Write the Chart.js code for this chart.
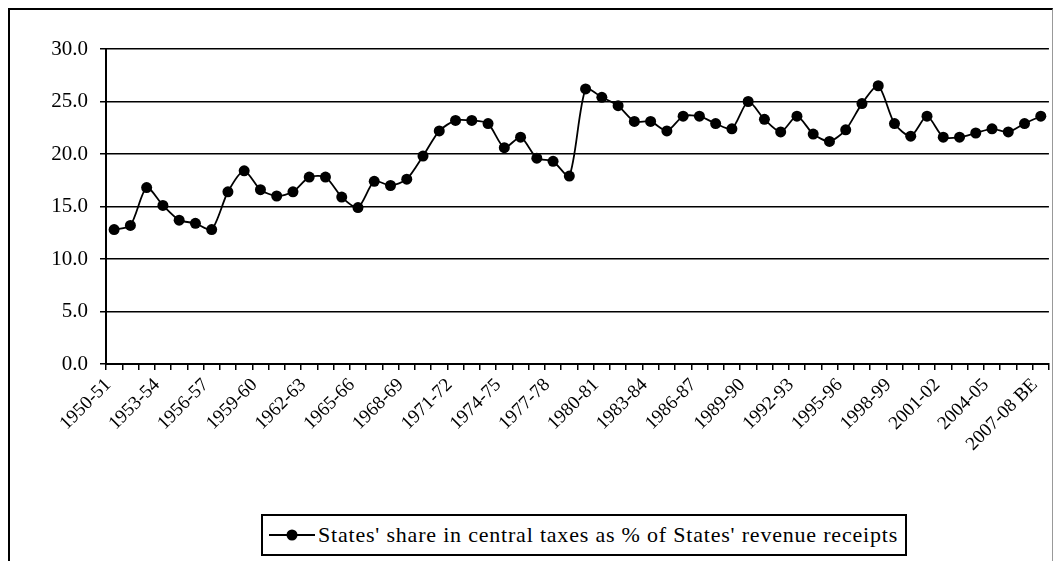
<!DOCTYPE html>
<html>
<head>
<meta charset="utf-8">
<script src="https://cdn.jsdelivr.net/npm/chart.js@4.4.1/dist/chart.umd.min.js"></script>
<style>
    html, body { margin: 0; padding: 0; background: #fff; overflow: hidden; }
    #wrap { position: relative; width: 1061px; height: 561px; }
    #frame {
        position: absolute; left: 8px; top: 8px; width: 1045px; height: 600px;
        border-left: 2px solid #000; border-top: 2px solid #000; border-right: 1px solid #999;
        box-sizing: border-box;
    }
    #chart { position: absolute; left: 0; top: 0; }
    #legend {
        position: absolute; left: 261px; top: 514px; width: 646px; height: 42px;
        border: 2px solid #000; box-sizing: border-box; background: #fff;
        display: flex; align-items: center; justify-content: flex-start; padding-left: 6px;
        font-family: 'Liberation Serif', Tinos, 'DejaVu Serif', 'Times New Roman', serif;
        font-size: 22px; letter-spacing: 0.8px; color: #000; white-space: nowrap;
    }
    #legend svg { margin-right: 3px; flex: none; }
</style>
</head>
<body>
<div id="wrap">
    <div id="frame"></div>
    <canvas id="chart" width="1061" height="561"></canvas>
    <div id="legend">
        <svg width="46" height="14"><line x1="0" y1="7" x2="46" y2="7" stroke="#000" stroke-width="2"/><circle cx="23" cy="7" r="5.5" fill="#000"/></svg>
        <span>States' share in central taxes as % of States' revenue receipts</span>
    </div>
</div>
<script>
const years = [
    '1950-51', '1951-52', '1952-53', '1953-54', '1954-55', '1955-56', '1956-57', '1957-58', '1958-59', '1959-60',
    '1960-61', '1961-62', '1962-63', '1963-64', '1964-65', '1965-66', '1966-67', '1967-68', '1968-69', '1969-70',
    '1970-71', '1971-72', '1972-73', '1973-74', '1974-75', '1975-76', '1976-77', '1977-78', '1978-79', '1979-80',
    '1980-81', '1981-82', '1982-83', '1983-84', '1984-85', '1985-86', '1986-87', '1987-88', '1988-89', '1989-90',
    '1990-91', '1991-92', '1992-93', '1993-94', '1994-95', '1995-96', '1996-97', '1997-98', '1998-99', '1999-00',
    '2000-01', '2001-02', '2002-03', '2003-04', '2004-05', '2005-06', '2006-07', '2007-08 BE',
];

const statesShare = [
    12.8, 13.2, 16.8, 15.1, 13.7, 13.4, 12.8, 16.4, 18.4, 16.6,
    16.0, 16.4, 17.8, 17.8, 15.9, 14.9, 17.4, 17.0, 17.6, 19.8,
    22.2, 23.2, 23.2, 22.9, 20.6, 21.6, 19.6, 19.3, 17.9, 26.2,
    25.4, 24.6, 23.1, 23.1, 22.2, 23.6, 23.6, 22.9, 22.4, 25.0,
    23.3, 22.1, 23.6, 21.9, 21.2, 22.3, 24.8, 26.5, 22.9, 21.7,
    23.6, 21.6, 21.6, 22.0, 22.4, 22.1, 22.9, 23.6,
];

const yMin = 0;
const yMax = 30;
const yStep = 5;
const labelEvery = 3;

const serif = "'Liberation Serif', Tinos, 'DejaVu Serif', 'Times New Roman', serif";

new Chart(document.getElementById('chart'), {
    type: 'line',
    data: {
        labels: years,
        datasets: [{
            label: "States' share in central taxes as % of States' revenue receipts",
            data: statesShare,
            borderColor: '#000',
            backgroundColor: '#000',
            borderWidth: 1.8,
            pointRadius: 5.5,
            pointHoverRadius: 5.5,
            pointBackgroundColor: '#000',
            pointBorderWidth: 0,
            tension: 0.25,
        }],
    },
    options: {
        responsive: false,
        animation: false,
        layout: { padding: { left: 0, top: 49, right: 9, bottom: 0 } },
        plugins: {
            legend: { display: false },
            tooltip: { enabled: false },
        },
        scales: {
            x: {
                offset: true,
                afterFit: (scale) => { scale.height = 197; },
                grid: {
                    display: true,
                    offset: true,
                    drawOnChartArea: false,
                    drawTicks: true,
                    tickLength: 6,
                    color: '#000',
                    lineWidth: 1.5,
                },
                border: { color: '#000', width: 2 },
                ticks: {
                    autoSkip: false,
                    maxRotation: 45,
                    minRotation: 45,
                    padding: 4,
                    labelOffset: -6,
                    color: '#000',
                    font: { family: serif, size: 19 },
                    callback: (value, index) => (index % labelEvery === 0 ? years[index] : ''),
                },
            },
            y: {
                min: yMin,
                max: yMax,
                afterFit: (scale) => { scale.width = 106; },
                grid: {
                    color: '#000',
                    lineWidth: 1.5,
                    tickLength: 6,
                },
                border: { color: '#000', width: 2 },
                ticks: {
                    stepSize: yStep,
                    padding: 12,
                    color: '#000',
                    font: { family: serif, size: 21 },
                    callback: (value) => Number(value).toFixed(1),
                },
            },
        },
    },
});
</script>
</body>
</html>
